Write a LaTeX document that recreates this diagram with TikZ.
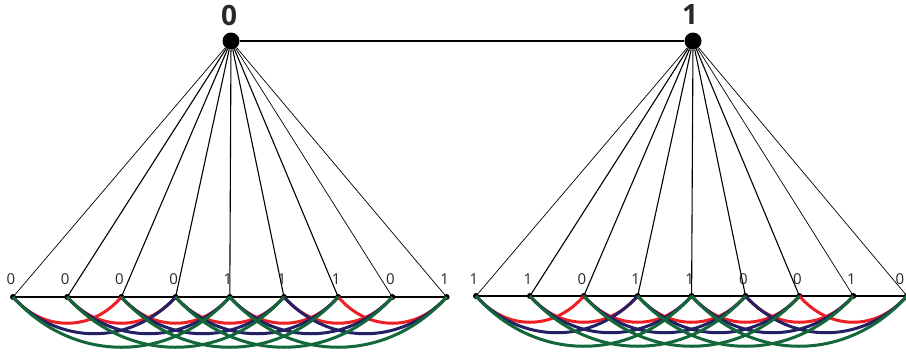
\documentclass[tikz,border=0pt]{standalone}
\usepackage{fontspec}
\setmainfont{Open Sans}
\definecolor{arcred}{RGB}{237,31,36}
\definecolor{arcblue}{RGB}{36,32,100}
\definecolor{arcgreen}{RGB}{18,104,56}
\definecolor{labelgray}{RGB}{40,40,40}
\begin{document}
\begin{tikzpicture}[x=1pt,y=-1pt,
  dot/.style={circle,fill=black,inner sep=0pt,minimum size=6pt},
  topdot/.style={circle,fill=black,inner sep=0pt,minimum size=17pt},
  fan/.style={line width=1.1pt},
  thinfan/.style={line width=0.7pt},
  base/.style={line width=2.8pt},
  arcR/.style={arcred,line width=3pt},
  arcB/.style={arcblue,line width=3pt},
  arcG/.style={arcgreen,line width=3pt},
  bit/.style={font=\fontsize{15}{15}\selectfont,text=labelgray},
  topbit/.style={font=\fontsize{28}{28}\selectfont\bfseries,text=labelgray}]
\useasboundingbox (0,0) rectangle (906,354);

% top nodes
\node[topdot] (T0) at (231,41) {};
\node[topdot] (T1) at (693,41) {};
\node[topbit] (tl0) at (229,15) {0};
\node[topbit] (tl1) at (690,15) {1};
\draw[line width=2.4pt] (T0) -- (T1);

% bottom nodes, left group
\foreach \i/\b in {0/0,1/0,2/0,3/0,4/1,5/1,6/1,7/0,8/1} {
  \node[dot] (L\i) at ({13+54.2*\i},297) {};
  \node[bit] (lb\i) at ({11+54.2*\i},279) {\b};
}
% bottom nodes, right group
\foreach \i/\b in {0/1,1/1,2/0,3/1,4/1,5/0,6/0,7/1} {
  \node[dot] (R\i) at ({476+53.9*\i},296) {};
  \node[bit] (rb\i) at ({474+53.9*\i},279) {\b};
}
\node[dot] (R8) at (907,296) {};
\node[bit] (rb8) at (900,279) {0};

% fan lines
\foreach \i in {1,...,6} {
  \draw[fan] (T0) -- (L\i.center);
  \draw[fan] (T1) -- (R\i.center);
}
\foreach \i in {0,7,8} {
  \draw[thinfan] (T0) -- (L\i.center);
  \draw[thinfan] (T1) -- (R\i.center);
}

% base lines
\draw[base] (L0.center) -- (L8.center);
\draw[base] (R0.center) -- (R8.center);

% arcs
\foreach \g in {L,R} {
  \foreach \i in {0,...,6} {
    \pgfmathtruncatemacro\j{\i+2}
    \draw[arcR] (\g\i.center) .. controls +(30,35) and +(-30,35) .. (\g\j.center);
  }
  \foreach \i in {0,...,5} {
    \pgfmathtruncatemacro\j{\i+3}
    \draw[arcB] (\g\i.center) .. controls +(45,49) and +(-45,49) .. (\g\j.center);
  }
  \foreach \i in {0,...,4} {
    \pgfmathtruncatemacro\j{\i+4}
    \draw[arcG] (\g\i.center) .. controls +(60,67) and +(-60,67) .. (\g\j.center);
  }
}
\end{tikzpicture}
\end{document}
